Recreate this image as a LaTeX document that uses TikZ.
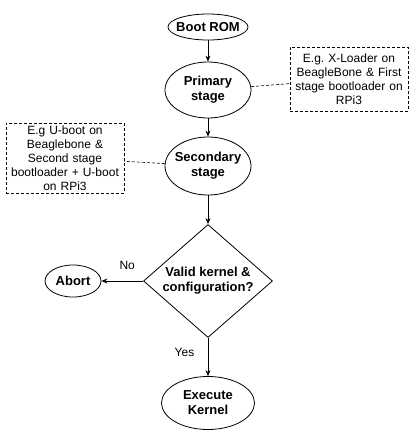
\documentclass[tikz,border=0pt]{standalone}
\usepackage{fontspec}
\setmainfont{Liberation Sans}
\usetikzlibrary{shapes.geometric,arrows.meta}

\begin{document}
\begin{tikzpicture}[x=1pt,y=-1pt,line width=0.8pt,
  stage/.style={draw,ellipse,inner xsep=-3.5pt,inner ysep=0pt,align=center,
    font=\bfseries\fontsize{13}{15}\selectfont},
  note/.style={draw,densely dashed,line width=0.6pt,align=center,text width=108pt,
    inner xsep=5pt,inner ysep=0pt,font=\fontsize{12}{14}\selectfont},
  flow/.style={-{Stealth[length=6pt,width=5pt]}},
  link/.style={densely dashed,line width=0.6pt}]
  \useasboundingbox (0,0) rectangle (415,432);

  % main stages
  \node[stage,minimum width=80pt,minimum height=26pt] (boot) at (208,27) {Boot ROM};
  \node[stage,minimum width=86pt,minimum height=56pt] (primary) at (208,90) {Primary\\stage};
  \node[stage,minimum width=86pt,minimum height=58pt] (secondary) at (208,166) {Secondary\\stage};
  \node[draw,diamond,aspect=1.14,inner sep=0pt,minimum width=129pt,minimum height=113pt,
    align=center,font=\bfseries\fontsize{13}{15}\selectfont] (check) at (208,281)
    {Valid kernel \&\\configuration?};
  \node[stage,minimum width=56pt,minimum height=32pt] (abort) at (73,281) {Abort};
  \node[stage,minimum width=93pt,minimum height=53pt] (exec) at (208,403) {Execute\\Kernel};

  % side notes
  \node[note,minimum height=64pt] (xnote) at (349,79)
    {E.g.\ X-Loader on\\BeagleBone \& First\\stage bootloader on\\RPi3};
  \node[note,minimum height=70pt] (unote) at (65,158)
    {E.g U-boot on\\Beaglebone \&\\Second stage\\bootloader + U-boot\\on RPi3};

  \draw[flow] (boot) -- (primary);
  \draw[flow] (primary) -- (secondary);
  \draw[flow] (secondary) -- (check);
  \draw[flow] (check) -- node[pos=0.38,above=8pt,font=\fontsize{12}{14}\selectfont] {No} (abort);
  \draw[flow] (check) -- node[pos=0.37,left=10pt,font=\fontsize{12}{14}\selectfont] {Yes} (exec);

  \draw[link] (primary) -- (xnote);
  \draw[link] (secondary) -- (unote);
\end{tikzpicture}
\end{document}
